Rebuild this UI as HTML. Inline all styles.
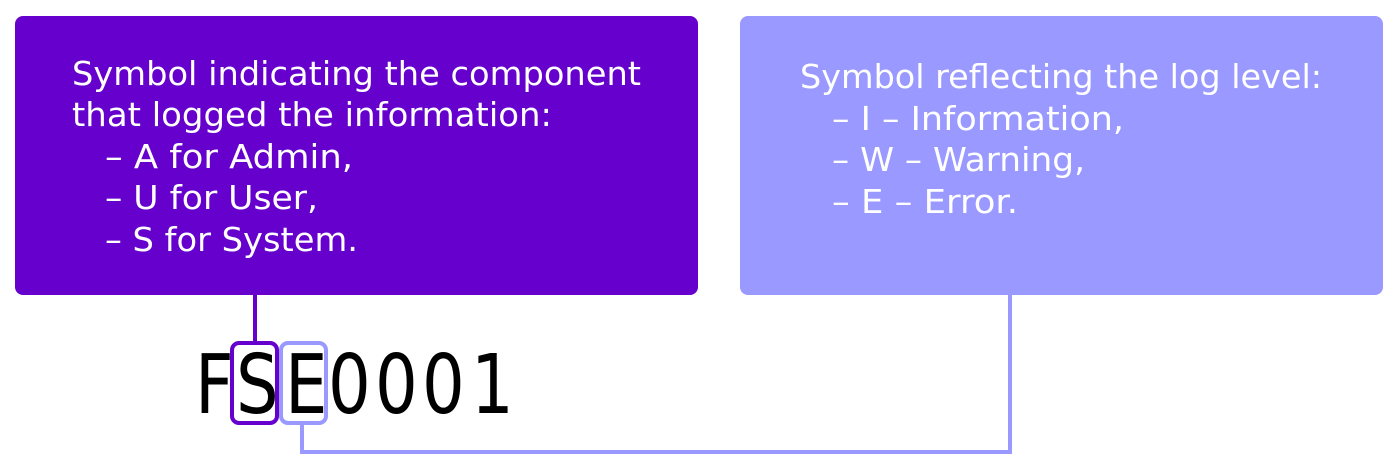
<!DOCTYPE html>
<html><head><meta charset="utf-8"><style>
html,body{margin:0;padding:0;background:#fff;}
svg{display:block;}
text{font-family:"DejaVu Sans","Liberation Sans",sans-serif;}
</style></head><body>
<svg width="1399" height="468" viewBox="0 0 1399 468" xmlns="http://www.w3.org/2000/svg">
<rect x="15" y="16" width="683" height="279" rx="8" fill="#6600CC"/>
<rect x="740" y="16" width="643" height="279" rx="8" fill="#9999FF"/>
<g fill="#fff" font-size="33">
<text x="72" y="85" textLength="569" lengthAdjust="spacingAndGlyphs">Symbol indicating the component</text>
<text x="72" y="126" textLength="480" lengthAdjust="spacingAndGlyphs">that logged the information:</text>
<text x="105" y="168" textLength="248" lengthAdjust="spacingAndGlyphs">– A for Admin,</text>
<text x="105" y="209" textLength="213" lengthAdjust="spacingAndGlyphs">– U for User,</text>
<text x="105" y="251" textLength="253" lengthAdjust="spacingAndGlyphs">– S for System.</text>
<text x="800" y="88" textLength="522" lengthAdjust="spacingAndGlyphs">Symbol reflecting the log level:</text>
<text x="832" y="130" textLength="292" lengthAdjust="spacingAndGlyphs">– I – Information,</text>
<text x="832" y="171" textLength="253" lengthAdjust="spacingAndGlyphs">– W – Warning,</text>
<text x="832" y="213" textLength="186" lengthAdjust="spacingAndGlyphs">– E – Error.</text>
</g>
<line x1="255" y1="295" x2="255" y2="343" stroke="#6600CC" stroke-width="4"/>
<polyline points="302,423 302,452 1010,452 1010,295" fill="none" stroke="#9999FF" stroke-width="4"/>
<text font-size="82" fill="#000" transform="scale(0.82,1)"><tspan x="237.8" y="413">F</tspan><tspan x="287.8" y="413">S</tspan><tspan x="347.6" y="413">E</tspan><tspan x="400" y="413">0</tspan><tspan x="457.3" y="413">0</tspan><tspan x="514.6" y="413">0</tspan><tspan x="574.4" y="413">1</tspan></text>
<rect x="232" y="343" width="45" height="80" rx="7" fill="none" stroke="#6600CC" stroke-width="4"/>
<rect x="281" y="343" width="45" height="80" rx="7" fill="none" stroke="#9999FF" stroke-width="4"/>
</svg>
</body></html>
